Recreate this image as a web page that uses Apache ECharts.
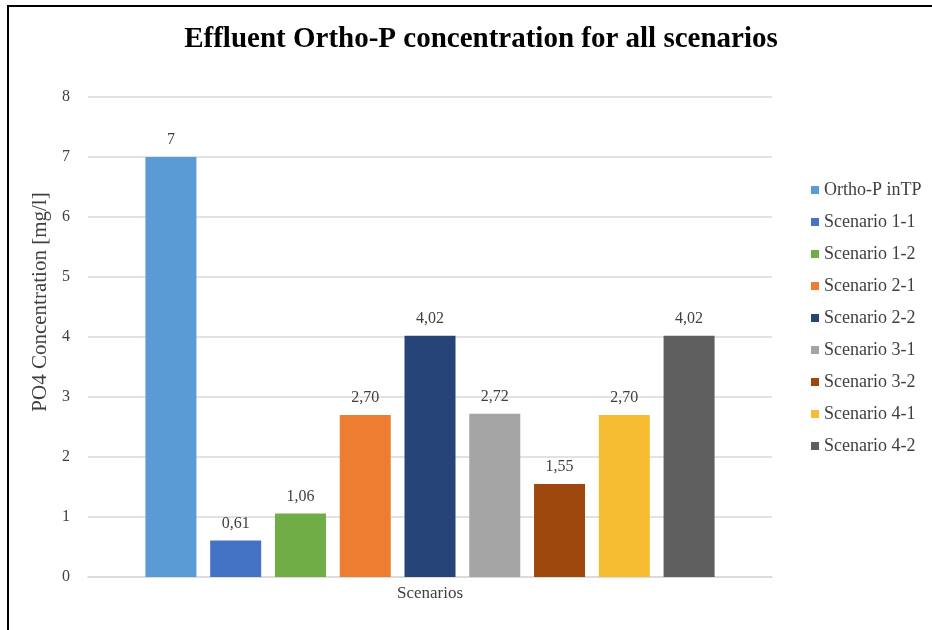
<!DOCTYPE html>
<html>
<head>
<meta charset="utf-8">
<script src="https://cdn.jsdelivr.net/npm/echarts@6/dist/echarts.min.js"></script>
<style>
  html, body { margin: 0; padding: 0; background: #fff; }
  #chart { width: 932px; height: 630px; }
</style>
</head>
<body>
<div id="chart"></div>
<script>
  const categories = ['Scenarios']
  const seriesNames = ['Ortho-P inTP', 'Scenario 1-1', 'Scenario 1-2', 'Scenario 2-1', 'Scenario 2-2',
    'Scenario 3-1', 'Scenario 3-2', 'Scenario 4-1', 'Scenario 4-2']
  const values = [7, 0.61, 1.06, 2.70, 4.02, 2.72, 1.55, 2.70, 4.02]
  const valueLabels = ['7', '0,61', '1,06', '2,70', '4,02', '2,72', '1,55', '2,70', '4,02']
  const yTicks = [0, 1, 2, 3, 4, 5, 6, 7, 8]
  const colors = ['#5B9BD5', '#4472C4', '#70AD47', '#ED7D31', '#264478',
    '#A5A5A5', '#9E480E', '#F6BD32', '#5F5F5F']

  const serif = '"Liberation Serif", "DejaVu Serif", serif'
  const chart = echarts.init(document.getElementById('chart'))

  const series = seriesNames.map((name, i) => ({
    name: name,
    type: 'bar',
    barWidth: 51,
    barGap: '27%',
    data: [values[i]],
    itemStyle: { color: colors[i] },
    label: {
      show: true,
      position: 'top',
      distance: 9,
      formatter: () => valueLabels[i],
      fontFamily: serif,
      fontSize: 16,
      color: '#404040'
    }
  }))

  chart.setOption({
    animation: false,
    title: {
      text: 'Effluent Ortho-P concentration for all scenarios',
      left: 476,
      top: 20,
      textAlign: 'center',
      textStyle: { fontFamily: serif, fontSize: 29, fontWeight: 'bold', color: '#000' }
    },
    legend: {
      orient: 'vertical',
      left: 806,
      top: 176,
      itemWidth: 8,
      itemHeight: 8,
      itemGap: 14,
      icon: 'rect',
      data: seriesNames,
      textStyle: { fontFamily: serif, fontSize: 18, lineHeight: 18, color: '#404040' }
    },
    grid: { left: 88, right: 160, top: 97, bottom: 53, containLabel: false },
    xAxis: {
      type: 'category',
      data: categories,
      axisTick: { show: false },
      axisLine: { lineStyle: { color: '#d9d9d9', width: 1.5 } },
      axisLabel: { fontFamily: serif, fontSize: 17, color: '#404040', margin: 8 }
    },
    yAxis: {
      type: 'value',
      min: yTicks[0],
      max: yTicks[yTicks.length - 1],
      interval: 1,
      name: 'PO4 Concentration [mg/l]',
      nameLocation: 'middle',
      nameGap: 33,
      nameTextStyle: { fontFamily: serif, fontSize: 21, color: '#404040', padding: [0, 0, 0, 70] },
      axisLine: { show: false },
      axisTick: { show: false },
      axisLabel: { fontFamily: serif, fontSize: 16, color: '#404040', margin: 18 },
      splitLine: { lineStyle: { color: '#d9d9d9', width: 1.5 } }
    },
    graphic: [{
      type: 'polyline',
      shape: { points: [[8, 640], [8, 6], [940, 6]] },
      style: { stroke: '#000', lineWidth: 2, fill: null }
    }],
    series: series
  })
</script>
</body>
</html>
